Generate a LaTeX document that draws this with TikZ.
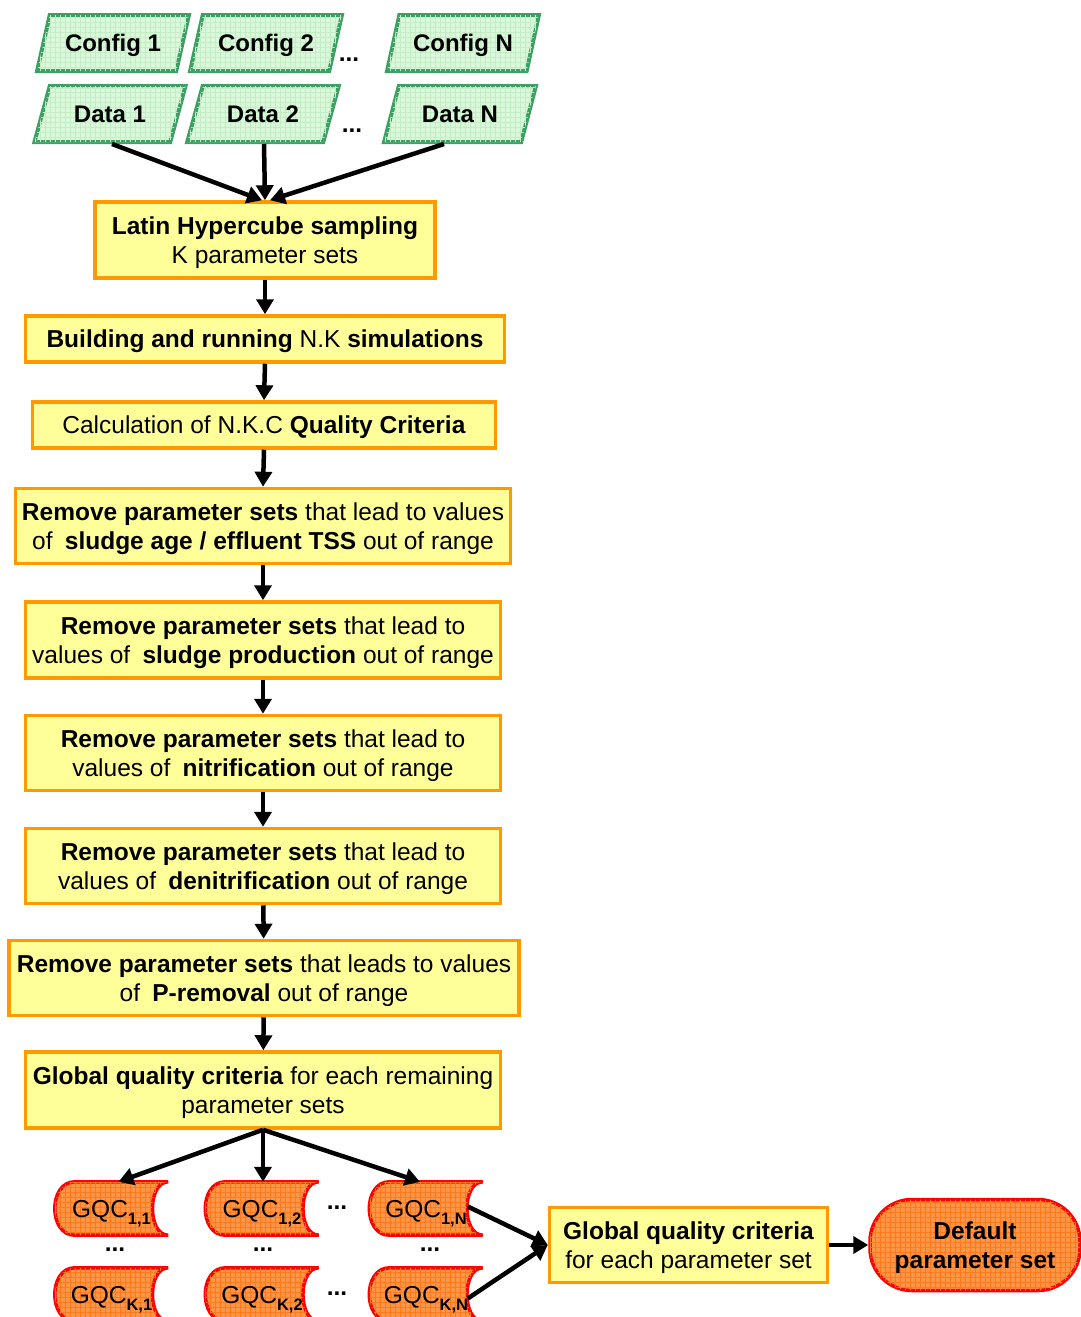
\documentclass[tikz,border=0pt]{standalone}
\usepackage{fontspec}
\setmainfont{Liberation Sans}
\usetikzlibrary{arrows.meta,positioning,shapes.geometric,patterns.meta,backgrounds,calc}
\definecolor{pbyellow}{RGB}{255,255,153}
\definecolor{pborange}{RGB}{255,153,0}
\definecolor{cfgreen}{RGB}{60,160,100}
\definecolor{cffill}{RGB}{218,248,218}
\definecolor{cfgrid}{RGB}{196,236,196}
\definecolor{gqorange}{RGB}{255,150,70}
\definecolor{gqgrid}{RGB}{255,120,30}
\definecolor{gqred}{RGB}{255,0,0}
\tikzset{
  inbox/.style={draw=cfgreen, fill=cffill, line width=4pt, shape=trapezium,
                trapezium left angle=61, trapezium right angle=119, trapezium stretches=true,
                minimum width=152pt, minimum height=56pt, inner sep=0pt, text depth=0pt,
                font=\bfseries\fontsize{24}{28}\selectfont,
                postaction={pattern={Hatch[distance=5pt,angle=0,line width=0.6pt]}, pattern color=cfgrid}},
  pbox/.style={draw=pborange, fill=pbyellow, line width=3.5pt, align=center,
               inner sep=2pt, text depth=0pt, font=\fontsize{24.5}{29}\selectfont},
  gqc/.style={minimum width=113pt, minimum height=53pt, inner sep=0pt, text depth=0pt,
              font=\fontsize{24.5}{28}\selectfont},
  gqcshape/.style={draw=gqred, fill=gqorange, line width=3.5pt,
                   postaction={pattern={Hatch[distance=5pt,angle=0,line width=0.6pt]}, pattern color=gqgrid}},
  dflt/.style={draw=gqred, fill=gqorange, line width=3.5pt, rounded corners=42pt,
               minimum width=210pt, minimum height=91pt, align=center, text depth=0pt,
               font=\bfseries\fontsize{24.5}{29}\selectfont,
               postaction={pattern={Hatch[distance=5pt,angle=0,line width=0.6pt]}, pattern color=gqgrid}},
  arr/.style={-{Triangle[length=15pt,width=17pt]}, line width=4.5pt},
  dots/.style={font=\bfseries\fontsize{24.5}{24.5}\selectfont, inner sep=0pt},
}
\newcommand{\gsub}[1]{\raisebox{-7pt}{\fontsize{16.5}{16.5}\selectfont\bfseries #1}}

\begin{document}
\begin{tikzpicture}[x=1pt, y=-1pt]
  \useasboundingbox (0,0) rectangle (1081,1317);

  % inputs
  \node[inbox] (cfg1) at (113,43) {Config 1};
  \node[inbox] (cfg2) at (266,43) {Config 2};
  \node[inbox] (cfgN) at (463,43) {Config N};
  \node[inbox] (dat1) at (110,114) {Data 1};
  \node[inbox] (dat2) at (263,114) {Data 2};
  \node[inbox] (datN) at (460,114) {Data N};
  \node[dots] (dc) at (349,60) {...};
  \node[dots] (dd) at (352,131) {...};

  % main chain
  \node[pbox, minimum width=340pt, minimum height=76pt] (lhs) at (265,240)
       {\textbf{Latin Hypercube sampling}\\K parameter sets};
  \node[pbox, minimum width=479pt, minimum height=46pt] (build) at (265,339)
       {\textbf{Building and running} N.K \textbf{simulations}};
  \node[pbox, minimum width=463pt, minimum height=46pt] (calc) at (264,425)
       {Calculation of N.K.C \textbf{Quality Criteria}};
  \node[pbox, minimum width=495pt, minimum height=75pt] (rm1) at (263,526)
       {\textbf{Remove parameter sets} that lead to values\\of\enspace\textbf{sludge age / effluent TSS} out of range};
  \node[pbox, minimum width=475pt, minimum height=76pt] (rm2) at (263,640)
       {\textbf{Remove parameter sets} that lead to\\values of\enspace\textbf{sludge production} out of range};
  \node[pbox, minimum width=475pt, minimum height=75pt] (rm3) at (263,753)
       {\textbf{Remove parameter sets} that lead to\\values of\enspace\textbf{nitrification} out of range};
  \node[pbox, minimum width=475pt, minimum height=75pt] (rm4) at (263,866)
       {\textbf{Remove parameter sets} that lead to\\values of\enspace\textbf{denitrification} out of range};
  \node[pbox, minimum width=510pt, minimum height=75pt] (rm5) at (264,978)
       {\textbf{Remove parameter sets} that leads to values\\of\enspace\textbf{P-removal} out of range};
  \node[pbox, minimum width=475pt, minimum height=76pt] (glob) at (263,1090)
       {\textbf{Global quality criteria} for each remaining\\parameter sets};

  % criteria per set and config
  \node[gqc] (g11) at (111.5,1208.5) {GQC\gsub{1,1}};
  \node[gqc] (g12) at (262,1208.5) {GQC\gsub{1,2}};
  \node[gqc] (g1N) at (426,1208.5) {GQC\gsub{1,N}};
  \node[gqc] (gK1) at (111.5,1294.5) {GQC\gsub{K,1}};
  \node[gqc] (gK2) at (262,1294.5) {GQC\gsub{K,2}};
  \node[gqc] (gKN) at (426,1294.5) {GQC\gsub{K,N}};
  \begin{pgfonlayer}{background}
    \foreach \g in {g11,g12,g1N,gK1,gK2,gKN}{
      \path[gqcshape] ([xshift=20pt]\g.north west) -- (\g.north east)
        .. controls ([xshift=-21pt]\g.north east) and ([xshift=-21pt]\g.south east) .. (\g.south east)
        -- ([xshift=20pt]\g.south west)
        .. controls ([xshift=-6.7pt]\g.south west) and ([xshift=-6.7pt]\g.north west) .. ([xshift=20pt]\g.north west)
        -- cycle;
    }
  \end{pgfonlayer}
  \node[dots] (d1) at (337,1208) {...};
  \node[dots] (d2) at (337,1294) {...};
  \node[dots] (d3) at (115,1250) {...};
  \node[dots] (d4) at (263,1250) {...};
  \node[dots] (d5) at (430,1250) {...};

  \node[pbox, minimum width=278pt, minimum height=75pt] (globR) at (688.5,1245)
       {\textbf{Global quality criteria}\\for each parameter set};
  \node[dflt] (dflt) at (975,1245) {Default\\parameter set};

  % arrows
  \draw[arr] ([xshift=2pt]dat1.south) -- ([xshift=-3pt]lhs.north);
  \draw[arr] ([xshift=1pt]dat2.south) -- (lhs.north);
  \draw[arr] ([xshift=-16pt]datN.south) -- ([xshift=5pt]lhs.north);
  \draw[arr] (lhs) -- (build);
  \draw[arr] (build.south) -- (calc.north);
  \draw[arr] (calc.south) -- (rm1.north);
  \draw[arr] (rm1) -- (rm2);
  \draw[arr] (rm2) -- (rm3);
  \draw[arr] (rm3) -- (rm4);
  \draw[arr] (rm4) -- (rm5);
  \draw[arr] (rm5) -- (glob);
  \draw[arr] (glob.south) -- ([xshift=7pt]g11.north);
  \draw[arr] (glob.south) -- ([xshift=1pt]g12.north);
  \draw[arr] (glob.south) -- ([xshift=-6pt]g1N.north);
  \draw[arr] ([xshift=-15pt,yshift=2pt]g1N.east) -- (globR.west);
  \draw[arr] ([xshift=-15pt,yshift=-4pt]gKN.east) -- (globR.west);
  \draw[arr] (globR) -- (dflt);
\end{tikzpicture}
\end{document}
